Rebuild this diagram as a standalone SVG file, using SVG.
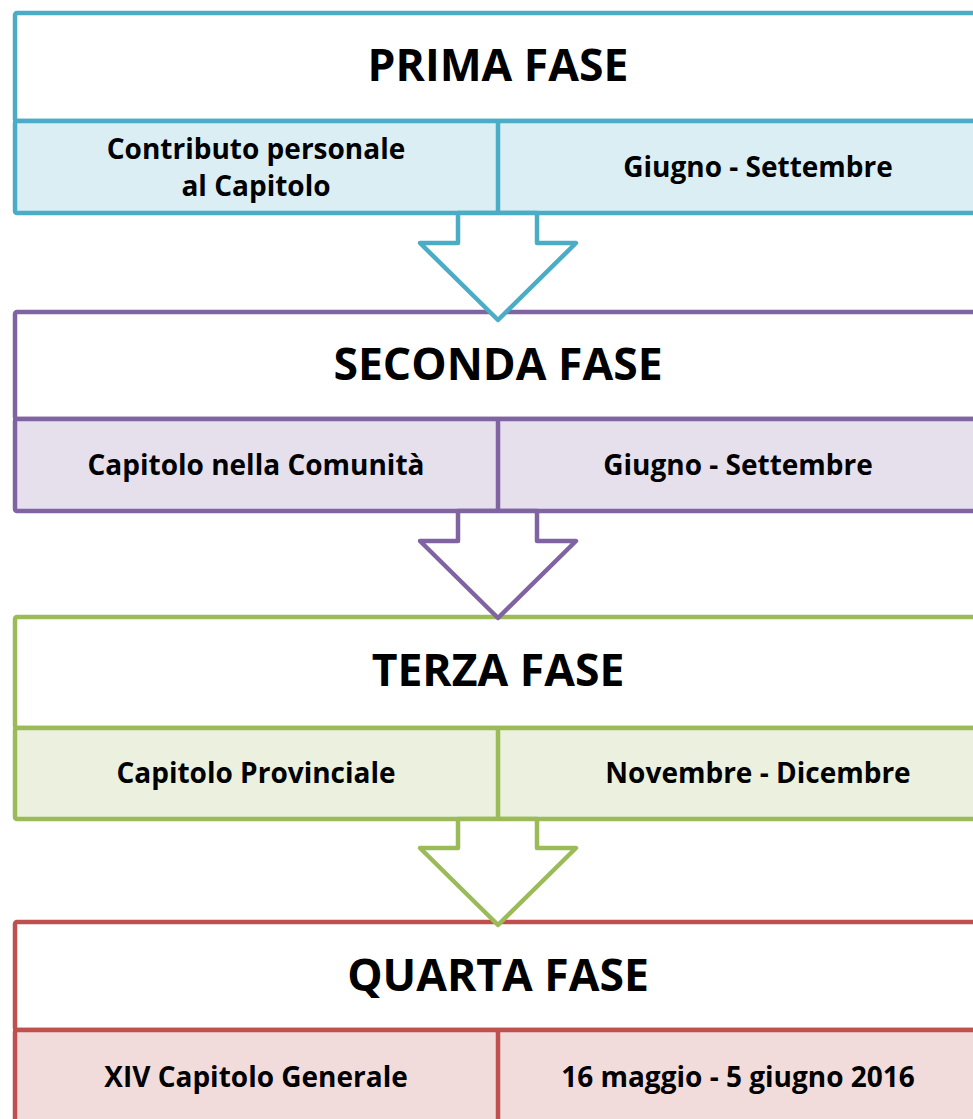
<svg xmlns="http://www.w3.org/2000/svg" width="973" height="1119" viewBox="0 0 973 1119">
<style>
.h{font-family:"Open Sans","Liberation Sans",sans-serif;font-weight:bold;font-size:44.5px;fill:#000;text-anchor:middle}
.s{font-family:"Open Sans","Liberation Sans",sans-serif;font-weight:bold;font-size:28px;fill:#000;text-anchor:middle}
.sw{stroke-width:4.5;stroke-linejoin:round}
</style>
<rect width="973" height="1119" fill="#fff"/>
<g id="fase1" class="sw" stroke="#4BACC6">
<rect x="15" y="13" width="1003" height="108" fill="#fff" rx="2"/>
<rect x="15" y="121" width="1003" height="92" fill="#DAEEF3" rx="2"/>
<line x1="498" y1="121" x2="498" y2="213"/>
<text class="h" x="498" y="81" stroke="none">PRIMA FASE</text>
<text class="s" x="256" y="159" stroke="none">Contributo personale</text>
<text class="s" x="256" y="196" stroke="none">al Capitolo</text>
<text class="s" x="758" y="177" stroke="none">Giugno - Settembre</text>
</g>
<g id="fase2" class="sw" stroke="#8064A2">
<rect x="15" y="312" width="1003" height="107" fill="#fff" rx="2"/>
<rect x="15" y="419" width="1003" height="92" fill="#E5E0EC" rx="2"/>
<line x1="498" y1="419" x2="498" y2="511"/>
<text class="h" x="498" y="380" stroke="none">SECONDA FASE</text>
<text class="s" x="256" y="475" stroke="none">Capitolo nella Comunità</text>
<text class="s" x="738" y="475" stroke="none">Giugno - Settembre</text>
</g>
<g id="fase3" class="sw" stroke="#9BBB59">
<rect x="15" y="617" width="1003" height="111" fill="#fff" rx="2"/>
<rect x="15" y="728" width="1003" height="91" fill="#EBF1DE" rx="2"/>
<line x1="498" y1="728" x2="498" y2="819"/>
<text class="h" x="498" y="686" stroke="none">TERZA FASE</text>
<text class="s" x="256" y="783" stroke="none">Capitolo Provinciale</text>
<text class="s" x="758" y="783" stroke="none">Novembre - Dicembre</text>
</g>
<g id="fase4" class="sw" stroke="#C0504D">
<rect x="15" y="922" width="1003" height="108" fill="#fff" rx="2"/>
<rect x="15" y="1030" width="1003" height="110" fill="#F2DCDB" rx="2"/>
<line x1="498" y1="1030" x2="498" y2="1140"/>
<text class="h" x="498" y="991" stroke="none">QUARTA FASE</text>
<text class="s" x="256" y="1087" stroke="none">XIV Capitolo Generale</text>
<text class="s" x="738" y="1087" stroke="none">16 maggio - 5 giugno 2016</text>
</g>
<g id="connectors" class="sw" fill="#fff">
<path d="M458,213 V243 H420 L498,320 L576,243 H537 V213 Z" stroke="#4BACC6"/>
<path d="M458,511 V541 H420 L498,618 L576,541 H537 V511 Z" stroke="#8064A2"/>
<path d="M458,819 V848 H420 L498,925 L576,848 H537 V819 Z" stroke="#9BBB59"/>
</g>
</svg>
